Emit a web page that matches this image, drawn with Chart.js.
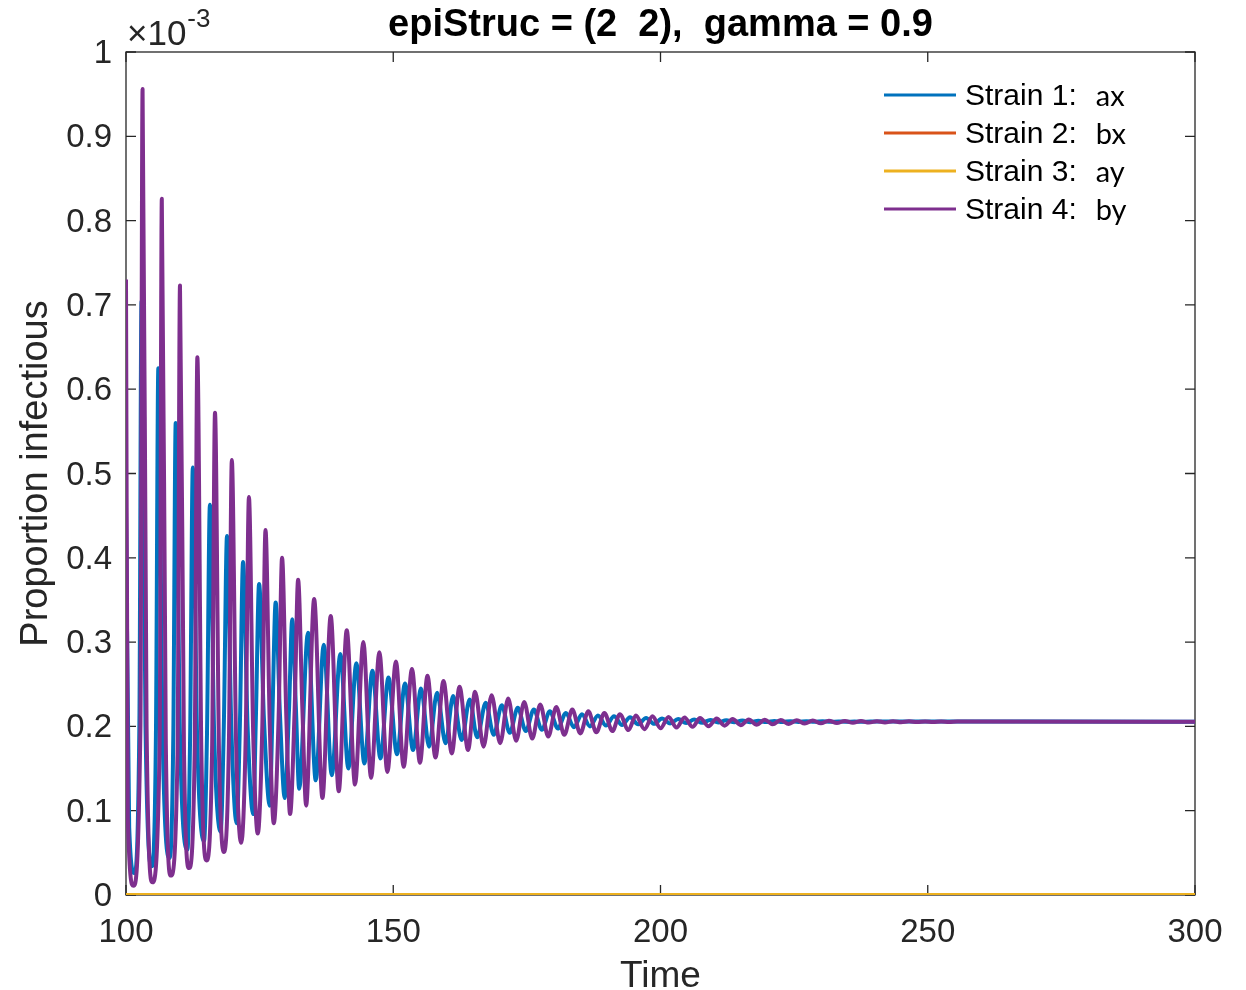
<!DOCTYPE html>
<html>
<head>
<meta charset="utf-8">
<script src="https://cdn.jsdelivr.net/npm/chart.js@4.4.0/dist/chart.umd.min.js"></script>
<style>
   html, body { margin: 0; padding: 0; background: #ffffff; }
</style>
</head>
<body>
<canvas id="chart-strain" width="1246" height="990"></canvas>
<script>
// Eixos
var xTicks = [100, 150, 200, 250, 300];
var yTicks = [0, 0.1, 0.2, 0.3, 0.4, 0.5, 0.6, 0.7, 0.8, 0.9, 1];

// Strain 1 (ax): tempos dos picos, vales e flancos, valores em x 10^-3
var tempoStrain1 = [
   100, 100.6, 101.55, 102.5, 102.9, 103.65, 104.8, 105.6, 106.05, 106.85,
   108.2, 108.85, 109.3, 110.1, 111.5, 112.0, 112.5, 113.3, 114.6, 115.15,
   115.7, 116.5, 117.7, 118.3, 118.9, 119.7, 120.7, 121.3, 121.9, 122.75,
   123.8, 124.3, 124.9, 125.8, 126.9, 127.4, 128.0, 128.8, 129.7, 130.5,
   131.1, 131.8, 132.4,
   134.05, 135.5, 137.0, 138.5, 140.1, 141.6, 143.1, 144.6,
   146.1, 147.6, 149.1, 150.7, 152.2, 153.7, 155.2, 156.7, 158.2, 159.8,
   161.2, 162.8, 164.3, 165.7, 167.3, 168.8, 170.3, 171.8, 173.3, 174.8,
   176.3, 177.8, 179.3, 180.8, 182.3, 183.8, 185.3, 186.8, 188.3, 189.8,
   191.3, 192.8, 194.3, 195.8, 197.3, 198.8, 200.3, 201.8, 203.3, 204.8,
   206.3, 207.8, 209.3, 210.8, 212.3, 213.8, 215.3, 216.8, 218.3, 219.8,
   221.3, 222.8, 224.3, 225.8, 227.3, 228.8, 230.3, 231.8, 233.3, 234.8,
   236.3, 237.8, 239.3, 300
];
var valorStrain1 = [
   0.456, 0.08, 0.026, 0.20, 0.704, 0.20, 0.034, 0.19, 0.625, 0.19,
   0.044, 0.19, 0.560, 0.19, 0.054, 0.19, 0.507, 0.19, 0.064, 0.19,
   0.463, 0.19, 0.075, 0.20, 0.426, 0.20, 0.085, 0.20, 0.395, 0.20,
   0.096, 0.21, 0.369, 0.21, 0.106, 0.215, 0.347, 0.215, 0.115, 0.22,
   0.327, 0.22, 0.126,
   0.311, 0.136, 0.297, 0.142, 0.286, 0.150, 0.275, 0.156,
   0.266, 0.162, 0.258, 0.167, 0.251, 0.172, 0.245, 0.176, 0.240, 0.180,
   0.236, 0.184, 0.232, 0.187, 0.228, 0.190, 0.225, 0.1925, 0.222, 0.1945,
   0.220, 0.196, 0.218, 0.1975, 0.216, 0.199, 0.2145, 0.200, 0.213, 0.201,
   0.212, 0.2018, 0.211, 0.2025, 0.210, 0.203, 0.2093, 0.2035, 0.2087, 0.2039,
   0.2081, 0.2043, 0.2076, 0.2046, 0.2072, 0.2048, 0.2069, 0.205, 0.2066, 0.2051,
   0.2064, 0.2052, 0.2062, 0.2053, 0.2061, 0.2054, 0.206, 0.2054, 0.2059, 0.2055,
   0.2058, 0.2055, 0.2057, 0.2056
];

// Strain 4 (by)
var tempoStrain4 = [
   100, 100.35, 101.4, 102.7, 103.1, 103.85, 104.95, 106.3, 106.7, 107.45,
   108.4, 109.65, 110.1, 110.85, 111.8, 112.85, 113.35, 114.1, 115.05, 116.1,
   116.65, 117.4, 118.3, 119.25, 119.8, 120.6, 121.55, 122.4, 123.0, 123.8,
   124.65, 125.5, 126.1, 126.9, 127.65, 128.55, 129.2, 130.0, 130.7, 131.55,
   132.2, 133.0, 133.7,
   135.2, 136.75, 138.3, 139.8, 141.3, 142.85, 144.4, 145.85,
   147.4, 148.9, 150.5, 151.95, 153.5, 155.0, 156.4, 157.9, 159.4, 160.95,
   162.4, 164.0, 165.3, 166.9, 168.4, 170.0, 171.5, 173.0, 174.5, 176.0,
   177.5, 179.0, 180.5, 182.0, 183.5, 185.0, 186.5, 188.0, 189.5, 191.0,
   192.4, 194.0, 195.4, 197.0, 198.5, 200.0, 201.5, 203.0, 204.5, 206.0,
   207.4, 209.0, 210.5, 212.0, 213.5, 215.0, 216.5, 218.0, 219.5, 221.0,
   222.5, 224.0, 225.5, 227.0, 228.5, 230.0, 231.5, 233.0, 234.5, 236.0,
   237.5, 239.0, 240.5, 242.0, 243.5, 245.0, 246.5, 248.0, 249.5, 251.0,
   252.5, 254.0, 255.5, 300
];
var valorStrain4 = [
   0.730, 0.09, 0.011, 0.20, 0.956, 0.20, 0.015, 0.18, 0.826, 0.18,
   0.023, 0.17, 0.723, 0.17, 0.032, 0.17, 0.638, 0.17, 0.041, 0.17,
   0.572, 0.17, 0.051, 0.18, 0.516, 0.18, 0.062, 0.19, 0.472, 0.19,
   0.073, 0.20, 0.433, 0.20, 0.085, 0.21, 0.400, 0.21, 0.096, 0.22,
   0.374, 0.22, 0.106,
   0.351, 0.115, 0.331, 0.123, 0.314, 0.131, 0.300, 0.139,
   0.288, 0.146, 0.277, 0.152, 0.268, 0.157, 0.260, 0.163, 0.254, 0.168,
   0.247, 0.172, 0.241, 0.176, 0.237, 0.180, 0.233, 0.183, 0.229, 0.1855,
   0.226, 0.188, 0.223, 0.190, 0.220, 0.1917, 0.218, 0.193, 0.216, 0.1945,
   0.2145, 0.1957, 0.213, 0.1967, 0.212, 0.1977, 0.2112, 0.1986, 0.2105, 0.1995,
   0.2099, 0.2002, 0.2093, 0.2009, 0.2088, 0.2015, 0.2083, 0.202, 0.2079, 0.2025,
   0.2075, 0.2029, 0.2072, 0.2033, 0.2069, 0.2036, 0.2067, 0.2039, 0.2065, 0.2042,
   0.2063, 0.2045, 0.2062, 0.2047, 0.2061, 0.2049, 0.206, 0.2051, 0.2059, 0.2052,
   0.2058, 0.2053, 0.2057, 0.2056
];

// Strain 2 (bx) e Strain 3 (ay) ficam em zero
var tempoZero = [100, 300];
var valorStrain2 = [0, 0];
var valorStrain3 = [0, 0];

var fonteEixo = "'Liberation Sans', Arial, Helvetica, sans-serif";
var corEixo = "#262626";

function pontos(tempos, valores) {
   return tempos.map(function (t, i) {
      return { x: t, y: valores[i] };
   });
}

// moldura, marcas dos ticks, titulo, expoente e legenda
var molduraPlugin = {
   id: "moldura",
   beforeDatasetsDraw: function (chart) {
      var ctx = chart.ctx;
      var a = chart.chartArea;
      var sx = chart.scales.x;
      var sy = chart.scales.y;
      ctx.save();
      ctx.strokeStyle = corEixo;
      ctx.lineWidth = 1.3;
      ctx.strokeRect(a.left, a.top, a.right - a.left, a.bottom - a.top);
      ctx.beginPath();
      xTicks.forEach(function (v) {
         var px = sx.getPixelForValue(v);
         ctx.moveTo(px, a.bottom);
         ctx.lineTo(px, a.bottom - 10);
         ctx.moveTo(px, a.top);
         ctx.lineTo(px, a.top + 10);
      });
      yTicks.forEach(function (v) {
         var py = sy.getPixelForValue(v);
         ctx.moveTo(a.left, py);
         ctx.lineTo(a.left + 10, py);
         ctx.moveTo(a.right, py);
         ctx.lineTo(a.right - 10, py);
      });
      ctx.stroke();
      ctx.restore();
   },
   afterDraw: function (chart) {
      var ctx = chart.ctx;
      var a = chart.chartArea;
      ctx.save();

      // titulo
      ctx.fillStyle = "#000000";
      ctx.font = "bold 38px " + fonteEixo;
      ctx.textAlign = "center";
      ctx.textBaseline = "alphabetic";
      ctx.fillText("epiStruc = (2  2),  gamma = 0.9", (a.left + a.right) / 2, 36);

      // multiplicador do eixo y
      ctx.fillStyle = corEixo;
      ctx.textAlign = "left";
      ctx.font = "35px " + fonteEixo;
      ctx.fillText("\u00d710", a.left + 1, 45);
      var w = ctx.measureText("\u00d710").width;
      ctx.font = "26px " + fonteEixo;
      ctx.fillText("-3", a.left + 2 + w, 27);

      // legenda
      var ds = chart.data.datasets;
      var x0 = a.right - 311;
      var y0 = a.top + 43;
      for (var i = 0; i < ds.length; i++) {
         var y = y0 + i * 38;
         ctx.strokeStyle = ds[i].borderColor;
         ctx.lineWidth = 3;
         ctx.beginPath();
         ctx.moveTo(x0, y);
         ctx.lineTo(x0 + 72, y);
         ctx.stroke();
         ctx.fillStyle = "#000000";
         ctx.textBaseline = "middle";
         ctx.font = "30px " + fonteEixo;
         ctx.fillText(ds[i].label, x0 + 81, y + 2);
         var lw = ctx.measureText(ds[i].label).width;
         ctx.font = "29px Lato, 'Open Sans', sans-serif";
         ctx.fillText(ds[i].sufixo, x0 + 81 + lw + 19, y + 2);
      }
      ctx.restore();
   }
};

const ctxStrain = document.getElementById("chart-strain");
new Chart(ctxStrain, {
   type: "line",
   data: {
      datasets: [
         {
            label: "Strain 1:",
            sufixo: "ax",
            data: pontos(tempoStrain1, valorStrain1),
            borderColor: "#0072BD",
            order: 4,
         },
         {
            label: "Strain 2:",
            sufixo: "bx",
            data: pontos(tempoZero, valorStrain2),
            borderColor: "#D95319",
            order: 3,
         },
         {
            label: "Strain 3:",
            sufixo: "ay",
            data: pontos(tempoZero, valorStrain3),
            borderColor: "#EDB120",
            order: 2,
         },
         {
            label: "Strain 4:",
            sufixo: "by",
            data: pontos(tempoStrain4, valorStrain4),
            borderColor: "#7E2F8E",
            order: 1,
         },
      ],
   },
   options: {
      responsive: false,
      animation: false,
      events: [],
      layout: {
         padding: { top: 52, right: 51, left: 0, bottom: 0 },
      },
      elements: {
         point: { radius: 0 },
         line: {
            borderWidth: 4,
            fill: false,
            cubicInterpolationMode: "monotone",
            borderJoinStyle: "round",
         },
      },
      plugins: {
         legend: { display: false },
         tooltip: { enabled: false },
      },
      scales: {
         x: {
            type: "linear",
            min: 100,
            max: 300,
            grid: { display: false, drawTicks: false },
            border: { display: false },
            afterBuildTicks: function (s) {
               s.ticks = xTicks.map(function (v) { return { value: v }; });
            },
            afterFit: function (s) {
               s.height = 95;
            },
            ticks: {
               autoSkip: false,
               maxRotation: 0,
               padding: 18,
               color: corEixo,
               font: { family: fonteEixo, size: 33 },
            },
            title: {
               display: true,
               text: "Time",
               color: corEixo,
               padding: { top: 0, bottom: 0 },
               font: { family: fonteEixo, size: 37, lineHeight: 0.7 },
            },
         },
         y: {
            type: "linear",
            min: 0,
            max: 1,
            grid: { display: false, drawTicks: false },
            border: { display: false },
            afterBuildTicks: function (s) {
               s.ticks = yTicks.map(function (v) { return { value: v }; });
            },
            afterFit: function (s) {
               s.width = 126;
            },
            ticks: {
               autoSkip: false,
               padding: 14,
               labelOffset: 2,
               color: corEixo,
               font: { family: fonteEixo, size: 33 },
               callback: function (v) {
                  return String(Math.round(v * 10) / 10);
               },
            },
            title: {
               display: true,
               text: "Proportion infectious",
               color: corEixo,
               padding: { top: 18, bottom: 0 },
               font: { family: fonteEixo, size: 38, lineHeight: 1 },
            },
         },
      },
   },
   plugins: [molduraPlugin],
});
</script>
</body>
</html>
